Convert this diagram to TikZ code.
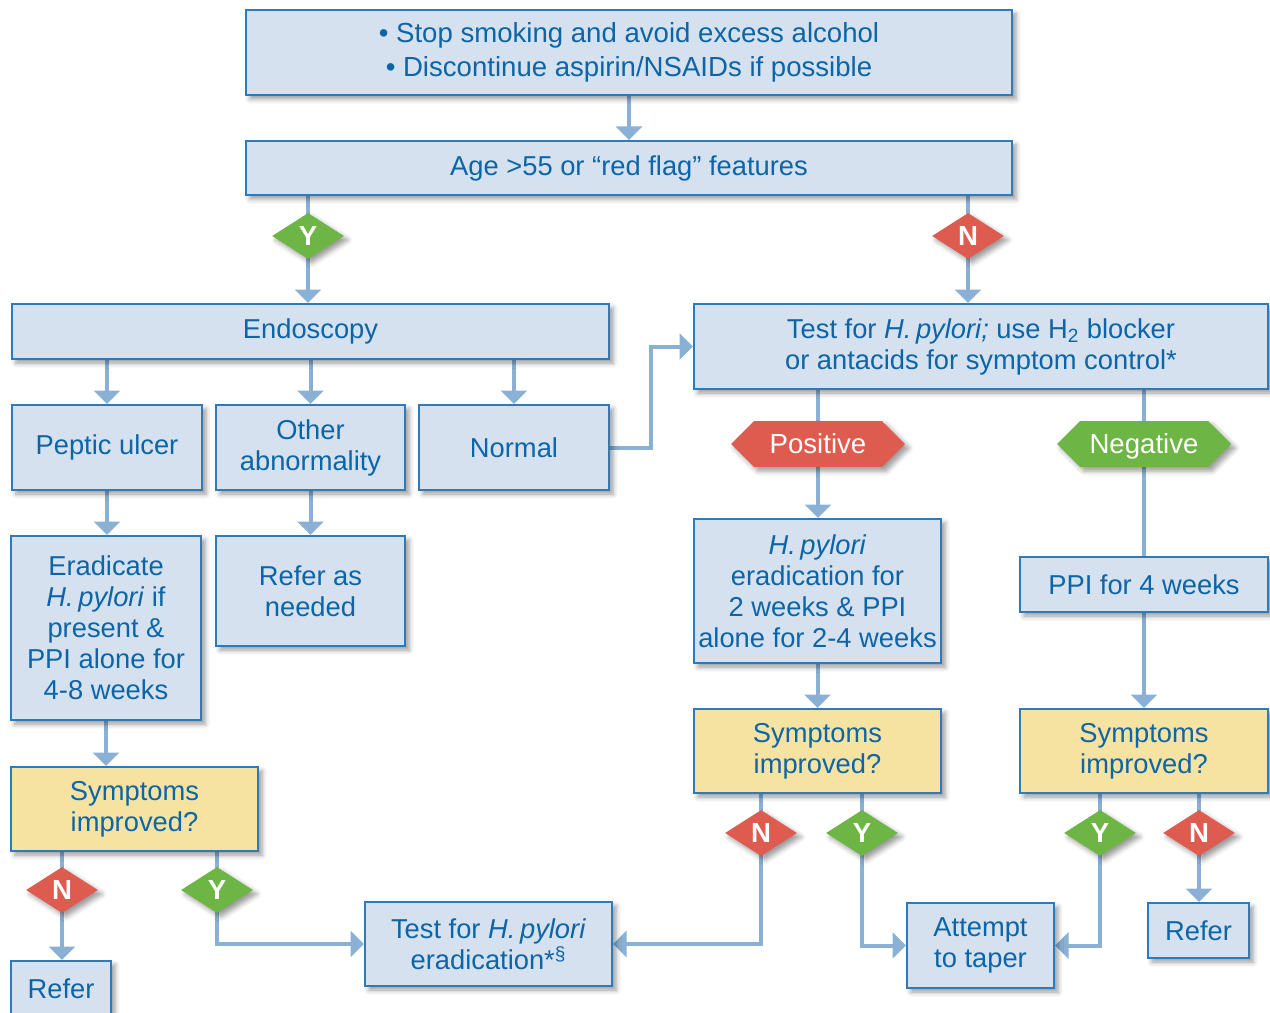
\documentclass[tikz,border=0pt]{standalone}
\usepackage{fontspec}
\setmainfont{Liberation Sans}
\usetikzlibrary{shapes.geometric,shapes.symbols,arrows.meta,shadows.blur}
\definecolor{boxfill}{HTML}{D5E1EE}
\definecolor{boxline}{HTML}{2F7AB8}
\definecolor{txt}{HTML}{0C65A6}
\definecolor{arrc}{HTML}{8AB0D6}
\definecolor{yel}{HTML}{F6E3A1}
\definecolor{redc}{HTML}{DD5C4F}
\definecolor{grn}{HTML}{6DB544}
\pgfdeclarelayer{bg}
\pgfsetlayers{bg,main}
\begin{document}
\begin{tikzpicture}[x=0.02cm,y=-0.02cm,
  shad/.style={blur shadow={shadow xshift=0.08cm, shadow yshift=-0.08cm, shadow blur radius=0.1cm, shadow opacity=40}},
  box/.style={draw=boxline, line width=0.04cm, fill=boxfill, text=txt, align=center, inner sep=0pt,
    font=\fontsize{15.55}{17.6}\selectfont, shad},
  ybox/.style={box, fill=yel},
  dia/.style={diamond, minimum width=1.44cm, minimum height=0.92cm, inner sep=0pt, text=white,
    font=\fontsize{15.7}{17.6}\selectfont\bfseries, shad},
  hexa/.style={signal, signal to=west and east, signal pointer angle=90, minimum width=3.48cm,
    minimum height=0.92cm, inner sep=0pt, text=white, text height=11.2pt, text depth=0pt,
    font=\fontsize{15.7}{17.6}\selectfont, shad},
  arr/.style={draw=arrc, line width=0.08cm, -{Triangle[width=0.52cm,length=0.27cm]}},
  ln/.style={draw=arrc, line width=0.08cm}]
\useasboundingbox (0,0) rectangle (1270,1013);
% boxes
\node[box, minimum width=766*0.02cm, minimum height=85*0.02cm, font=\fontsize{15.7}{19.3}\selectfont] (b1) at (629,52.5)
  {• Stop smoking and avoid excess alcohol\\• Discontinue aspirin/NSAIDs if possible};
\node[box, minimum width=766*0.02cm, minimum height=54*0.02cm] (b2) at (629,168) {Age >55 or “red flag” features};
\node[box, minimum width=597*0.02cm, minimum height=55*0.02cm] (endo) at (310.5,331.5) {Endoscopy};
\node[box, minimum width=574*0.02cm, minimum height=85*0.02cm] (test) at (981,346.5)
  {Test for \textit{H.\,pylori;} use H\textsubscript{2} blocker\\or antacids for symptom control*};
\node[box, minimum width=190*0.02cm, minimum height=85*0.02cm] (pu) at (107,447.5) {Peptic ulcer};
\node[box, minimum width=189*0.02cm, minimum height=85*0.02cm] (oa) at (310.5,447.5) {Other\\abnormality};
\node[box, minimum width=190*0.02cm, minimum height=85*0.02cm] (nm) at (514,447.5) {Normal};
\node[box, minimum width=190*0.02cm, minimum height=184*0.02cm] (er) at (106,628)
  {Eradicate\\\textit{H.\,pylori} if\\present \&\\PPI alone for\\4-8 weeks};
\node[box, minimum width=189*0.02cm, minimum height=110*0.02cm] (rn) at (310.5,591) {Refer as\\needed};
\node[ybox, minimum width=247*0.02cm, minimum height=84*0.02cm] (sl) at (134.5,809) {Symptoms\\improved?};
\node[box, minimum width=100*0.02cm, minimum height=55*0.02cm] (refl) at (61,988.5) {Refer};
\node[box, minimum width=247*0.02cm, minimum height=84*0.02cm] (tfe) at (488.5,944)
  {Test for \textit{H.\,pylori}\\eradication*\textsuperscript{§}};
\node[box, minimum width=247*0.02cm, minimum height=144*0.02cm] (hp) at (817.5,591)
  {\textit{H.\,pylori}\\eradication for\\2 weeks \& PPI\\alone for 2-4 weeks};
\node[box, minimum width=248*0.02cm, minimum height=55*0.02cm] (ppi) at (1144,584.5) {PPI for 4 weeks};
\node[ybox, minimum width=247*0.02cm, minimum height=84*0.02cm] (sm) at (817.5,751) {Symptoms\\improved?};
\node[ybox, minimum width=248*0.02cm, minimum height=84*0.02cm] (sr) at (1144,751) {Symptoms\\improved?};
\node[box, minimum width=147*0.02cm, minimum height=85*0.02cm] (at) at (980.5,945.5) {Attempt\\to taper};
\node[box, minimum width=101*0.02cm, minimum height=55*0.02cm] (refr) at (1198.5,930.5) {Refer};
% decision markers
\node[dia, fill=grn] (dY1) at (308,236) {Y};
\node[dia, fill=redc] (dN1) at (968,236) {N};
\node[hexa, fill=redc] (hpos) at (818,444) {Positive};
\node[hexa, fill=grn] (hneg) at (1144,444) {Negative};
\node[dia, fill=redc] (dN2) at (62,890) {N};
\node[dia, fill=grn] (dY2) at (217,890) {Y};
\node[dia, fill=redc] (dN3) at (761,833) {N};
\node[dia, fill=grn] (dY3) at (862,833) {Y};
\node[dia, fill=grn] (dY4) at (1100,833) {Y};
\node[dia, fill=redc] (dN4) at (1199,833) {N};
% connectors
\begin{pgfonlayer}{bg}
\draw[arr] (b1.south) -- (b2.north);
\draw[arr] (b2.south -| dY1) -- (endo.north -| dY1);
\draw[arr] (b2.south -| dN1) -- (test.north -| dN1);
\draw[arr] (endo.south -| pu) -- (pu.north);
\draw[arr] (endo.south -| oa) -- (oa.north);
\draw[arr] (endo.south -| nm) -- (nm.north);
\draw[arr] (nm.east) -- ++(41,0) |- (test.west);
\draw[arr] (pu.south) -- (pu.south |- er.north);
\draw[arr] (oa.south) -- (rn.north);
\draw[arr] (er.south) -- (er.south |- sl.north);
\draw[arr] (sl.south -| dN2) -- (refl.north -| dN2);
\draw[arr] (sl.south -| dY2) |- (tfe.west);
\draw[arr] (test.south -| hpos) -- (hp.north -| hpos);
\draw[ln] (test.south -| hneg) -- (ppi.north -| hneg);
\draw[arr] (hp.south) -- (sm.north);
\draw[arr] (ppi.south) -- (sr.north);
\draw[arr] (sm.south -| dN3) |- (tfe.east);
\draw[arr] (sm.south -| dY3) |- (at.west);
\draw[arr] (sr.south -| dY4) |- (at.east);
\draw[arr] (sr.south -| dN4) -- (refr.north -| dN4);
\end{pgfonlayer}
\end{tikzpicture}
\end{document}
